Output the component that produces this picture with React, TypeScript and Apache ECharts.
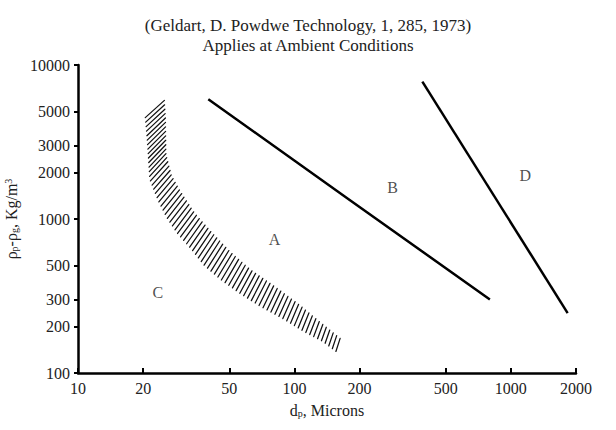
import React, { useEffect, useRef } from "react";
import * as echarts from "echarts";

// Tick values (real units)
const xTicks = [10, 20, 50, 100, 200, 500, 1000, 2000];
const yTicks = [100, 200, 300, 500, 1000, 2000, 3000, 5000, 10000];

// Boundary A/B
const lineABdp = [40, 180, 800];
const lineABrho = [6000, 1330, 300];
// Boundary B/D
const lineBDdp = [390, 1830];
const lineBDrho = [7800, 245];

// Hatched C/A transition band: C-side edge and A-side edge
const bandInnerDp = [20.6, 21.0, 22.9, 24.9, 27.7, 32.2, 36.9, 44.2, 54.7, 67.7, 86.4, 110, 136, 158];
const bandInnerRho = [5260, 2020, 1430, 1110, 874, 678, 526, 420, 336, 276, 228, 185, 159, 137];
const bandOuterDp = [24.9, 25.5, 26.0, 27.7, 30.8, 35.8, 42.4, 52.4, 64.8, 83.7, 107, 132, 160];
const bandOuterRho = [5100, 3900, 2345, 1740, 1369, 1015, 787, 584, 453, 356, 276, 214, 169];

// Region labels
const regionNames = ["A", "B", "C", "D"];
const regionDp = [81, 284, 23.4, 1165];
const regionRho = [741, 1590, 331, 1903];

const FONT = '"Liberation Serif", "DejaVu Serif", serif';
const TXT = "#222";

function makeSampler(pts: number[][]) {
  const cum = [0];
  for (let i = 1; i < pts.length; i++) {
    cum.push(cum[i - 1] + Math.hypot(pts[i][0] - pts[i - 1][0], pts[i][1] - pts[i - 1][1]));
  }
  const total = cum[cum.length - 1];
  return (s: number) => {
    const t = Math.max(0, Math.min(1, s)) * total;
    let i = 1;
    while (i < cum.length - 1 && cum[i] < t) i++;
    const seg = cum[i] - cum[i - 1] || 1;
    const f = (t - cum[i - 1]) / seg;
    return [
      pts[i - 1][0] + (pts[i][0] - pts[i - 1][0]) * f,
      pts[i - 1][1] + (pts[i][1] - pts[i - 1][1]) * f,
    ];
  };
}

export default function App() {
  const ref = useRef<HTMLDivElement>(null);
  useEffect(() => {
    if (!ref.current) return;
    const chart = echarts.init(ref.current, null, { renderer: "svg" });
    const sub = { fontSize: 10, lineHeight: 6, verticalAlign: "bottom", fontFamily: FONT, color: TXT };
    const sup = { fontSize: 10, lineHeight: 6, verticalAlign: "top", fontFamily: FONT, color: TXT };
    const base = { fontSize: 16, lineHeight: 16, fontFamily: FONT, color: TXT };

    const option: any = {
      animation: false,
      title: {
        text: "(Geldart, D. Powdwe Technology, 1, 285, 1973)\nApplies at Ambient Conditions",
        left: "center",
        top: 10,
        textStyle: { fontSize: 17, fontWeight: "normal", lineHeight: 20, fontFamily: FONT, color: TXT },
      },
      grid: { left: 78, right: 40, top: 65, bottom: 57, outerBoundsMode: "none" },
      xAxis: [
        { type: "log", logBase: 10, min: 10, max: 2000, show: false, gridIndex: 0 },
        {
          type: "value",
          gridIndex: 0,
          min: 1,
          max: Math.log10(2000),
          position: "bottom",
          splitLine: { show: false },
          axisLine: { show: true, onZero: false, lineStyle: { color: "#000", width: 2.5 } },
          axisTick: { show: true, inside: true, length: 5, lineStyle: { color: "#000", width: 2 }, customValues: xTicks.map((v) => Math.log10(v)) },
          axisLabel: {
            customValues: xTicks.map((v) => Math.log10(v)),
            formatter: (v: number) => String(Math.round(Math.pow(10, v))),
            fontSize: 16,
            fontFamily: FONT,
            color: TXT,
            margin: 7,
          },
          name: "{b|d}{s|p}{b|, Microns}",
          nameLocation: "middle",
          nameGap: 29,
          nameTextStyle: { rich: { b: base, s: sub } },
        },
      ],
      yAxis: [
        { type: "log", logBase: 10, min: 100, max: 10000, show: false, gridIndex: 0 },
        {
          type: "value",
          gridIndex: 0,
          min: 2,
          max: 4,
          position: "left",
          splitLine: { show: false },
          axisLine: { show: true, onZero: false, lineStyle: { color: "#000", width: 2.5 } },
          axisTick: { show: true, inside: false, length: 4, lineStyle: { color: "#000", width: 2 }, customValues: yTicks.map((v) => Math.log10(v)) },
          axisLabel: {
            customValues: yTicks.map((v) => Math.log10(v)),
            formatter: (v: number) => String(Math.round(Math.pow(10, v))),
            fontSize: 16,
            fontFamily: FONT,
            color: TXT,
            margin: 8,
          },
          name: "{b|ρ}{s|p}{b|-ρ}{s|g}{b|, Kg/m}{u|3}",
          nameLocation: "middle",
          nameGap: 57,
          nameRotate: 90,
          nameTextStyle: { rich: { b: base, s: sub, u: sup } },
        },
      ],
      series: [
        {
          type: "line",
          xAxisIndex: 0,
          yAxisIndex: 0,
          data: lineABdp.map((d, i) => [d, lineABrho[i]]),
          symbol: "none",
          lineStyle: { color: "#000", width: 2.5 },
        },
        {
          type: "line",
          xAxisIndex: 0,
          yAxisIndex: 0,
          data: lineBDdp.map((d, i) => [d, lineBDrho[i]]),
          symbol: "none",
          lineStyle: { color: "#000", width: 2.5 },
        },
        {
          type: "custom",
          xAxisIndex: 0,
          yAxisIndex: 0,
          data: [[bandInnerDp[0], bandInnerRho[0]]],
          renderItem: (params: any, api: any) => {
            const inner = bandInnerDp.map((d, i) => api.coord([d, bandInnerRho[i]]));
            const outer = bandOuterDp.map((d, i) => api.coord([d, bandOuterRho[i]]));
            const fi = makeSampler(inner);
            const fo = makeSampler(outer);
            const children: any[] = [];
            const N = 72;
            for (let k = 0; k < N; k++) {
              const s = k / (N - 1);
              const p = fi(s);
              const q = fo(s);
              const cx = (p[0] + q[0]) / 2;
              const cy = (p[1] + q[1]) / 2;
              const dx = q[0] - p[0];
              const dy = q[1] - p[1];
              const w = Math.hypot(dx, dy);
              const phiU = Math.atan2(-dy, dx);
              const theta = ((42 + 30 * s) * Math.PI) / 180;
              const vx = Math.cos(theta);
              const vy = -Math.sin(theta);
              const c = Math.max(0.45, Math.abs(Math.cos(theta - phiU)));
              const L = (w / c) / 2 * 0.95;
              children.push({
                type: "line",
                shape: { x1: cx - vx * L, y1: cy - vy * L, x2: cx + vx * L, y2: cy + vy * L },
                style: { stroke: "#111", lineWidth: 1.25, lineCap: "round" },
              });
            }
            return { type: "group", children };
          },
        },
        {
          type: "scatter",
          xAxisIndex: 0,
          yAxisIndex: 0,
          symbolSize: 1,
          itemStyle: { color: "rgba(0,0,0,0)" },
          data: regionNames.map((n, i) => ({ name: n, value: [regionDp[i], regionRho[i]] })),
          label: {
            show: true,
            position: "inside",
            formatter: (p: any) => p.name,
            fontSize: 16,
            fontFamily: FONT,
            color: TXT,
          },
        },
      ],
    };
    chart.setOption(option);
    return () => chart.dispose();
  }, []);
  return <div ref={ref} style={{ position: "absolute", left: 0, top: 0, width: 616, height: 430 }} />;
}
